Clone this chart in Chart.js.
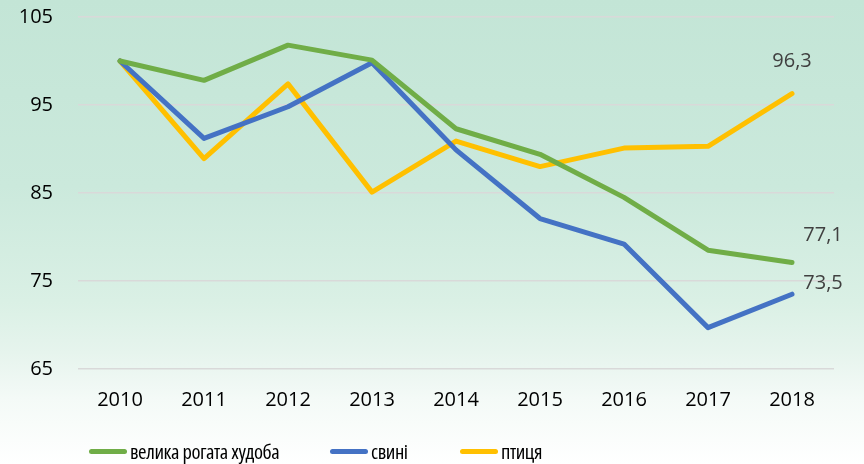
<!DOCTYPE html>
<html>
<head>
<meta charset="utf-8">
<script src="https://cdn.jsdelivr.net/npm/chart.js@4/dist/chart.umd.min.js"></script>
<style>
  html, body { margin: 0; padding: 0; }
  body {
    width: 864px;
    height: 464px;
    overflow: hidden;
    background: linear-gradient(to bottom, #c3e5d6 0%, #cbe9dc 40%, #daf0e5 65%, #e6f4ed 76%, #f4faf7 86%, #ffffff 100%);
  }
  .wrap { position: relative; width: 864px; height: 464px; }
  #legend {
    position: absolute;
    left: 0;
    top: 439px;
    width: 864px;
    height: 24px;
    font-family: 'Open Sans', sans-serif;
    font-stretch: 75%;
    font-size: 20.5px;
    letter-spacing: -0.4px;
    color: #000;
  }
  .item { position: absolute; top: 0; display: flex; align-items: center; height: 24px; white-space: nowrap; }
  .swatch { width: 38px; height: 5px; border-radius: 3px; margin-right: 3px; }
</style>
</head>
<body>
<div class="wrap">
  <canvas id="livestockChart"></canvas>
  <div id="legend"></div>
</div>
<script>
const years = ['2010', '2011', '2012', '2013', '2014', '2015', '2016', '2017', '2018'];
const cattle = [100, 97.8, 101.8, 100.1, 92.3, 89.4, 84.5, 78.5, 77.1];
const pigs = [100, 91.2, 94.8, 99.8, 89.9, 82.1, 79.2, 69.7, 73.5];
const poultry = [100, 88.9, 97.4, 85.1, 90.9, 88.0, 90.1, 90.3, 96.3];
const yTicks = [65, 75, 85, 95, 105];

const tickFont = "'Open Sans', sans-serif";

// value labels for the last year of each series
const lastValueLabels = {
  id: 'lastValueLabels',
  afterDatasetsDraw(chart, args, opts) {
    const ctx = chart.ctx;
    ctx.save();
    ctx.font = '20px ' + tickFont;
    ctx.fillStyle = '#404040';
    ctx.textAlign = 'center';
    ctx.textBaseline = 'middle';
    chart.data.datasets.forEach((ds, i) => {
      const meta = chart.getDatasetMeta(i);
      const last = meta.data.length - 1;
      const pt = meta.data[last];
      const off = opts.offsets[i];
      const text = String(ds.data[last]).replace('.', ',');
      ctx.fillText(text, pt.x + off[0], pt.y + off[1]);
    });
    ctx.restore();
  }
};

function lineSeries(label, data, color) {
  return {
    label: label,
    data: data,
    borderColor: color,
    backgroundColor: color,
    borderWidth: 5,
    borderCapStyle: 'round',
    borderJoinStyle: 'round',
    pointRadius: 0,
    pointHoverRadius: 0,
    tension: 0,
    fill: false
  };
}

const chart = new Chart(document.getElementById('livestockChart'), {
  type: 'line',
  data: {
    labels: years,
    datasets: [
      lineSeries('велика рогата худоба', cattle, '#70ad47'),
      lineSeries('свині', pigs, '#4472c4'),
      lineSeries('птиця', poultry, '#ffc000')
    ]
  },
  options: {
    responsive: true,
    maintainAspectRatio: false,
    animation: false,
    layout: { padding: { left: 0, right: 30, top: 17, bottom: 45 } },
    plugins: {
      tooltip: { enabled: false },
      legend: { display: false },
      lastValueLabels: { offsets: [[31, -27], [31, -11], [0, -32]] }
    },
    scales: {
      x: {
        offset: true,
        grid: { display: false, drawTicks: false },
        border: { display: false },
        afterFit(axis) { axis.height = 50; },
        ticks: {
          padding: 19,
          color: '#000000',
          maxRotation: 0,
          font: { family: tickFont, size: 20 }
        }
      },
      y: {
        min: 65,
        max: 105,
        afterBuildTicks(axis) {
          axis.ticks = yTicks.map(v => ({ value: v }));
        },
        afterFit(axis) {
          axis.width = 78;
          // no extra room above the top tick label
          axis.paddingTop = 0;
          axis.paddingBottom = 0;
        },
        grid: { color: '#d9d9d9', lineWidth: 1.5, drawTicks: false },
        border: { display: false },
        ticks: {
          padding: 25,
          color: '#000000',
          font: { family: tickFont, size: 20 }
        }
      }
    }
  },
  plugins: [lastValueLabels]
});

// legend built from the chart's datasets
const legendEl = document.getElementById('legend');
const legendX = [89, 330, 460];
chart.data.datasets.forEach((ds, i) => {
  const item = document.createElement('div');
  item.className = 'item';
  item.style.left = legendX[i] + 'px';
  item.innerHTML = '<span class="swatch" style="background:' + ds.borderColor + '"></span><span>' + ds.label + '</span>';
  legendEl.appendChild(item);
});
</script>
</body>
</html>
